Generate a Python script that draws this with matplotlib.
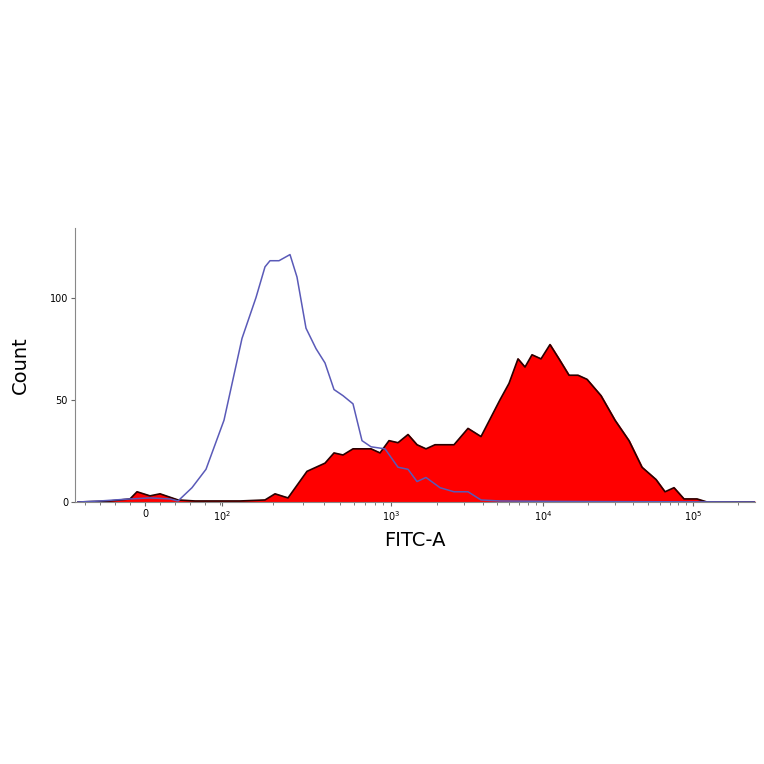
import numpy as np
import matplotlib
matplotlib.use("Agg")
import matplotlib.pyplot as plt

# channel positions (display-channel units) and counts
blue_x = [78, 100, 130, 150, 170, 178, 192, 206, 224, 242, 256, 265, 270, 279, 290, 297, 306, 316, 325, 334, 343, 353, 362, 371, 385, 398, 408, 417, 426, 440, 454, 468, 481, 500, 550, 600, 755]
blue_y = [0, 0.5, 1.5, 2, 1.5, 0.5, 7, 16, 40, 80, 100, 115, 118, 118, 121, 110, 85, 75, 68, 55, 52, 48, 30, 27, 26, 17, 16, 10, 12, 7, 5, 5, 1, 0.5, 0.3, 0.2, 0]
red_x = [78, 110, 130, 137, 150, 160, 178, 195, 240, 265, 275, 288, 307, 325, 334, 343, 353, 371, 380, 389, 398, 408, 417, 426, 435, 454, 468, 481, 500, 509, 518, 525, 532, 541, 550, 559, 569, 578, 587, 601, 615, 629, 642, 656, 665, 674, 684, 697, 707, 755]
red_y = [0, 0.5, 1.5, 5, 3, 4, 1, 0.5, 0.5, 1, 4, 2, 15, 19, 24, 23, 26, 26, 24, 30, 29, 33, 28, 26, 28, 28, 36, 32, 50, 58, 70, 66, 72, 70, 77, 70, 62, 62, 60, 52, 40, 30, 17, 11, 5, 7, 1.5, 1.5, 0, 0]
tick_pos = [145, 222, 391, 543, 693]
tick_lab = ["0", r"$10^2$", r"$10^3$", r"$10^4$", r"$10^5$"]

fig = plt.figure(figsize=(7.64, 7.64), dpi=100)
ax = fig.add_axes([75/764, 262/764, 680/764, 274/764])
ax.fill_between(red_x, red_y, color="#ff0000", zorder=2)
ax.plot(red_x, red_y, color="#2a0000", lw=1.2, zorder=3)
ax.plot(blue_x, blue_y, color="#5a5ab8", lw=1.1, zorder=4)
ax.set_xlim(75, 755)
ax.set_ylim(0, 134)
ax.set_xticks(tick_pos)
ax.set_xticklabels(tick_lab, fontsize=7)
ax.set_yticks([0, 50, 100])
ax.set_yticklabels(["0", "50", "100"], fontsize=7)
# minor log ticks
minor = []
for d in range(3):
    a, b = tick_pos[d+1], tick_pos[d+2]
    for k in range(2, 10):
        minor.append(a + (b - a) * np.log10(k))
for k in range(2, 10):
    minor.append(693 + (693 - 543) * np.log10(k))
minor += list(np.arange(85, 222, 15))
ax.set_xticks([m for m in minor if m < 755], minor=True)
ax.tick_params(axis="x", which="minor", length=2.5, color="#666666")
ax.tick_params(axis="both", which="major", length=3, color="#666666", pad=2)
for s in ["top", "right"]:
    ax.spines[s].set_visible(False)
for s in ["left", "bottom"]:
    ax.spines[s].set_color("#888888")
ax.set_xlabel("FITC-A", fontsize=14, labelpad=6)
ax.set_ylabel("Count", fontsize=14, labelpad=14)
fig.savefig("out.png", dpi=100)
